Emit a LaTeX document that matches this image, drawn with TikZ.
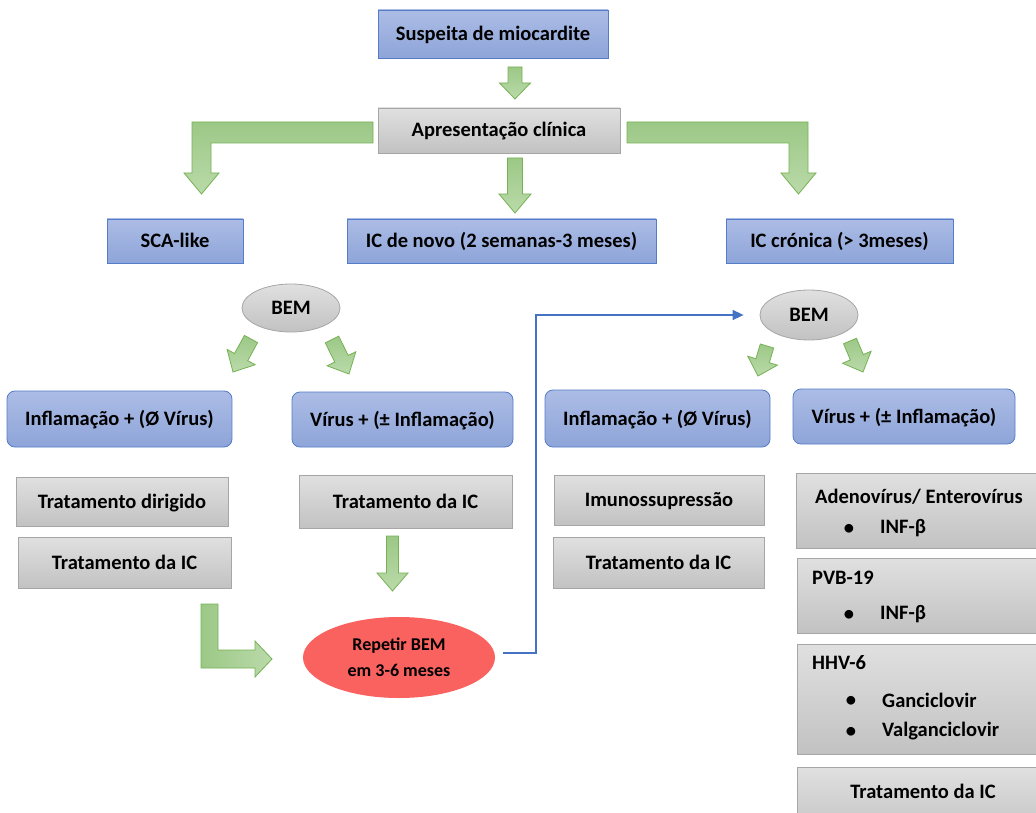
\documentclass[tikz,border=0pt]{standalone}
\usepackage{fontspec}
\setmainfont{Carlito}
\usetikzlibrary{calc,shapes.geometric,arrows.meta}

\definecolor{bluetop}{RGB}{172,188,229}
\definecolor{bluebot}{RGB}{142,165,217}
\definecolor{bluebd}{RGB}{84,124,200}
\definecolor{graytop}{RGB}{224,224,224}
\definecolor{graybot}{RGB}{194,194,194}
\definecolor{graybd}{RGB}{166,166,166}
\definecolor{greentop}{RGB}{156,200,134}
\definecolor{greenbot}{RGB}{186,218,170}
\definecolor{greenbd}{RGB}{118,178,84}
\definecolor{redfill}{RGB}{250,98,96}
\definecolor{connblue}{RGB}{68,114,196}

\tikzset{
  base/.style={font=\fontsize{20.5}{24}\selectfont\bfseries, inner sep=0pt, text=black},
  boxtext/.style={text height=15pt, text depth=2pt},
  bluebox/.style={base, boxtext, rectangle, draw=bluebd, line width=0.8pt, top color=bluetop, bottom color=bluebot},
  blueround/.style={bluebox, rounded corners=8pt},
  graybox/.style={base, boxtext, rectangle, draw=graybd, line width=0.8pt, top color=graytop, bottom color=graybot},
  grayell/.style={base, boxtext, ellipse, draw=graybd, line width=0.8pt, top color=graytop, bottom color=graybot},
  redell/.style={base, ellipse, fill=redfill, font=\fontsize{18}{26}\selectfont\bfseries, align=center},
  txt/.style={base, anchor=west},
  greenarrow/.style={draw=greenbd, line width=0.8pt, top color=greentop, bottom color=greenbot, line join=miter},
  greenarrowh/.style={draw=greenbd, line width=0.8pt, left color=greentop, right color=greenbot, line join=miter},
  conn/.style={draw=connblue, line width=1.5pt, -{Triangle[length=11pt,width=10pt]}},
}

\newcommand\blockarrow[5]{%
  \coordinate (ba-s) at #1;
  \coordinate (ba-t) at #2;
  \coordinate (ba-b) at ($(ba-t)!#5!(ba-s)$);
  \draw[greenarrow] ($(ba-s)!#3!90:(ba-t)$) -- ($(ba-b)!#3!90:(ba-t)$) -- ($(ba-b)!#4!90:(ba-t)$)
    -- (ba-t) -- ($(ba-b)!#4!-90:(ba-t)$) -- ($(ba-b)!#3!-90:(ba-t)$) -- ($(ba-s)!#3!-90:(ba-t)$) -- cycle;
}

\begin{document}
\begin{tikzpicture}[x=1pt,y=-1pt]
\useasboundingbox (0,0) rectangle (1036,813);
\fill[white] (0,0) rectangle (1036,813);
\clip (0,0) rectangle (1036,813);

% top
\node[bluebox, minimum width=230pt, minimum height=48pt] (susp) at (493,34) {Suspeita de miocardite};
\node[graybox, minimum width=242pt, minimum height=45pt] (apres) at (499,130.5) {Apresentação clínica};

\node[bluebox, minimum width=136pt, minimum height=44pt] (sca) at (175,241) {SCA-like};
\node[bluebox, minimum width=309pt, minimum height=44pt] (novo) at (501.5,241) {IC de novo (2 semanas-3 meses)};
\node[bluebox, minimum width=227pt, minimum height=44pt] (cron) at (839.5,241) {IC crónica (> 3meses)};

\node[grayell, minimum width=98pt, minimum height=48pt] (bemL) at (291,308) {BEM};
\node[grayell, minimum width=98pt, minimum height=50pt] (bemR) at (809,315) {BEM};

\node[blueround, minimum width=225pt, minimum height=56pt] (inflL) at (119.5,419) {Inflamação + (Ø Vírus)};
\node[blueround, minimum width=221pt, minimum height=55pt] (virL) at (402.5,419.5) {Vírus + (± Inflamação)};
\node[blueround, minimum width=225pt, minimum height=57pt] (inflR) at (657.5,418.5) {Inflamação + (Ø Vírus)};
\node[blueround, minimum width=222pt, minimum height=55pt] (virR) at (904,416.5) {Vírus + (± Inflamação)};

\node[graybox, minimum width=212pt, minimum height=49pt] (tdir) at (122,501.5) {Tratamento dirigido};
\node[graybox, minimum width=213pt, minimum height=51pt] (ticL) at (124.5,562.5) {Tratamento da IC};
\node[graybox, minimum width=213pt, minimum height=53pt] (ticM) at (405.5,501.5) {Tratamento da IC};
\node[graybox, minimum width=210pt, minimum height=50pt] (imuno) at (659,500) {Imunossupressão};
\node[graybox, minimum width=211pt, minimum height=51pt] (ticR) at (658.5,562.5) {Tratamento da IC};

\node[redell, minimum width=192pt, minimum height=81pt] (rep) at (399,657.5) {Repetir BEM\\em 3-6 meses};

% right column
\node[graybox, minimum width=254pt, minimum height=75pt] (adeno) at (923,510.5) {};
\node[txt] (adenoT) at (815,497) {Adenovírus/ Enterovírus};
\node[base] (adenoB) at (849,529) {•};
\node[txt] (adenoI) at (880,528) {INF-β};

\node[graybox, minimum width=252pt, minimum height=75pt] (pvb) at (923,595.5) {};
\node[txt] (pvbT) at (812,578) {PVB-19};
\node[base] (pvbB) at (849,615) {•};
\node[txt] (pvbI) at (880,614) {INF-β};

\node[graybox, minimum width=252pt, minimum height=110pt] (hhv) at (923,699) {};
\node[txt] (hhvT) at (812,663) {HHV-6};
\node[base] (hhvB1) at (851,701) {•};
\node[txt] (hhvG) at (882,700) {Ganciclovir};
\node[base] (hhvB2) at (851,732) {•};
\node[txt] (hhvV) at (882,731) {Valganciclovir};

\node[graybox, minimum width=252pt, minimum height=70pt] (ticF) at (923,802) {};
\node[base, anchor=center] (ticFT) at (923,791) {Tratamento da IC};

% green block arrows
\blockarrow{(515,67)}{(515,99)}{7pt}{15.5pt}{16pt}
\blockarrow{(515,158)}{(515,213)}{7.5pt}{16pt}{19pt}
\blockarrow{(392.5,536)}{(392.5,591)}{6pt}{15.5pt}{18pt}
\blockarrow{(251,339)}{(233,372)}{7.5pt}{16pt}{17pt}
\blockarrow{(332,339.5)}{(349,374)}{7.5pt}{16pt}{17pt}
\blockarrow{(767,346)}{(758,376)}{7pt}{15.5pt}{16pt}
\blockarrow{(850,341)}{(863,372)}{7pt}{15.5pt}{16pt}

\draw[greenarrow] (373,122) -- (192,122) -- (192,173) -- (184,173) -- (201.5,194) -- (219,173) -- (211,173) -- (211,143) -- (373,143) -- cycle;
\draw[greenarrow] (627,122) -- (808,122) -- (808,173) -- (816,173) -- (798.5,194) -- (781,173) -- (789,173) -- (789,143) -- (627,143) -- cycle;
\draw[greenarrowh] (201,604) -- (218,604) -- (218,650) -- (255,650) -- (255,641) -- (272,659) -- (255,677) -- (255,668) -- (201,668) -- cycle;

% blue connector
\draw[conn] ([xshift=8pt,yshift=4.5pt]rep.east) -- ++(33,0) |- ([xshift=-16pt]bemR.west);
\end{tikzpicture}
\end{document}
